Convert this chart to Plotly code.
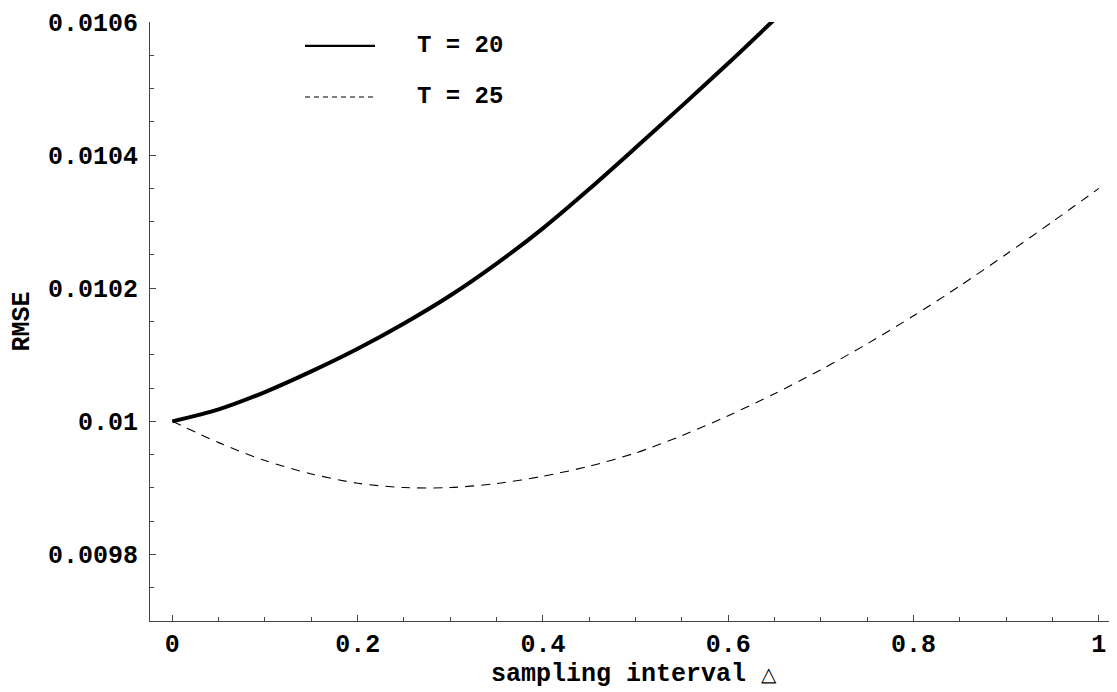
import plotly.graph_objects as go

# Data
delta_t20 = [0.0, 0.05, 0.10, 0.15, 0.20, 0.25, 0.30, 0.35, 0.40, 0.45, 0.50, 0.55, 0.60, 0.65]
rmse_t20 = [0.010000, 0.010018, 0.010044, 0.010075, 0.010109, 0.010147, 0.010189, 0.010237,
            0.010290, 0.010349, 0.010411, 0.010474, 0.010538, 0.010604]

delta_t25 = [0.0, 0.05, 0.10, 0.15, 0.20, 0.25, 0.30, 0.35, 0.40, 0.45, 0.50, 0.55, 0.60, 0.65,
             0.70, 0.75, 0.80, 0.85, 0.90, 0.95, 1.0]
rmse_t25 = [0.010000, 0.009968, 0.009941, 0.009921, 0.009907, 0.0099005, 0.0099005, 0.0099065,
            0.0099175, 0.0099325, 0.0099525, 0.0099785, 0.0100085, 0.0100415, 0.0100775, 0.0101165,
            0.0101585, 0.0102035, 0.0102510, 0.0103000, 0.0103500]

series_names = ["T = 20", "T = 25"]

x_tickvals = [0, 0.2, 0.4, 0.6, 0.8, 1.0]
x_ticktext = ["0", "0.2", "0.4", "0.6", "0.8", "1"]
y_tickvals = [0.0098, 0.0100, 0.0102, 0.0104, 0.0106]
y_ticktext = ["0.0098", "0.01", "0.0102", "0.0104", "0.0106"]

FONT = "Liberation Mono"
AX = "#444444"

fig = go.Figure()
fig.add_trace(go.Scatter(x=delta_t20, y=rmse_t20, mode="lines", name=series_names[0],
                         line=dict(color="black", width=4, shape="spline", smoothing=0.8),
                         showlegend=False))
fig.add_trace(go.Scatter(x=delta_t25, y=rmse_t25, mode="lines", name=series_names[1],
                         line=dict(color="black", width=1.1, dash="9px,7px", shape="spline", smoothing=0.8),
                         showlegend=False))

# Hand-drawn legend (Mathematica style)
legend_rows = [(0.960, dict(color="black", width=2.2)),
               (0.8748, dict(color="black", width=1, dash="5px,4px"))]
for (yy, ln), name in zip(legend_rows, series_names):
    fig.add_shape(type="line", xref="paper", yref="paper", x0=0.1603, x1=0.2327, y0=yy, y1=yy, line=ln)
    fig.add_annotation(xref="paper", yref="paper", x=0.274, y=yy, text="<b>%s</b>" % name,
                       showarrow=False, xanchor="left", yanchor="middle",
                       font=dict(family=FONT, size=24, color="black"))

fig.update_layout(
    width=1109, height=684,
    margin=dict(l=142, r=0, t=14, b=71),
    paper_bgcolor="white", plot_bgcolor="white",
    font=dict(family=FONT, size=25, color="black"),
    xaxis=dict(range=[-0.0241, 1.0196], showgrid=False, zeroline=False,
               showline=True, linecolor=AX, linewidth=1,
               tickvals=x_tickvals, ticktext=["<b>%s</b>" % t for t in x_ticktext],
               ticks="inside", ticklen=6, tickcolor=AX, tickwidth=1,
               minor=dict(dtick=0.05, tick0=0, ticks="inside", ticklen=4, tickcolor=AX, tickwidth=1),
               title=dict(text="<b>sampling interval</b> <span style='font-size:20px'>△</span>", standoff=4,
                          font=dict(family=FONT, size=25))),
    yaxis=dict(range=[0.0097, 0.0106], showgrid=False, zeroline=False,
               showline=True, linecolor=AX, linewidth=1,
               tickvals=y_tickvals, ticktext=["<b>%s</b>" % t for t in y_ticktext],
               ticks="inside", ticklen=6, tickcolor=AX, tickwidth=1, ticklabelstandoff=6,
               minor=dict(dtick=0.00005, tick0=0.0097, ticks="inside", ticklen=4, tickcolor=AX, tickwidth=1),
               title=dict(text="<b>RMSE</b>", standoff=12,
                          font=dict(family=FONT, size=25))),
)

fig.write_html("out.html")
